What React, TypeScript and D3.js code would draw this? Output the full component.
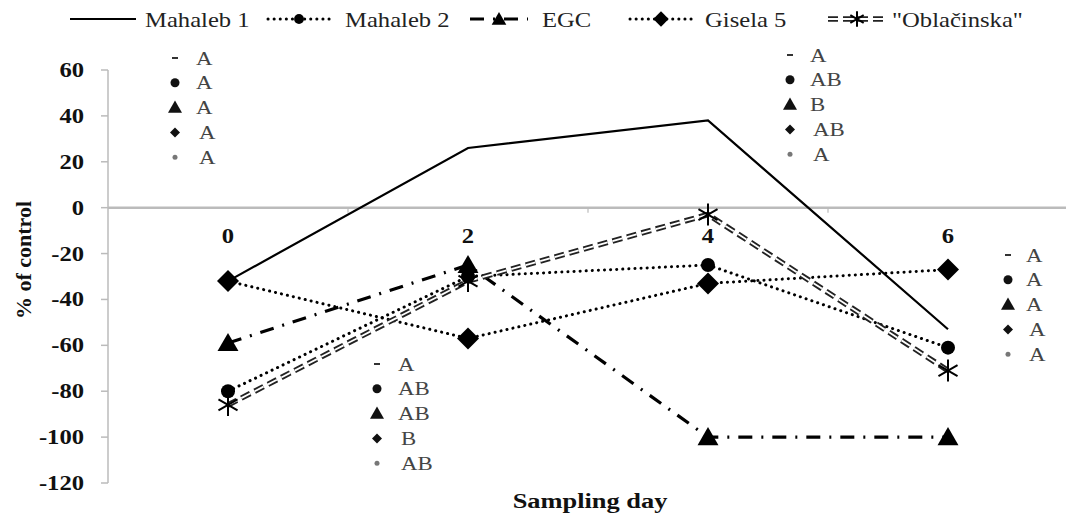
import React from "react";
import * as d3 from "d3";

const days = ["0", "2", "4", "6"];
const yTicks = [60, 40, 20, 0, -20, -40, -60, -80, -100, -120];
const mahaleb1 = [-32, 26, 38, -53];
const mahaleb2 = [-80, -30, -25, -61];
const egc = [-59, -25, -100, -100];
const gisela5 = [-32, -57, -33, -27];
const oblacinska = [-86, -32, -3, -71];
const seriesNames = ["Mahaleb 1", "Mahaleb 2", "EGC", "Gisela 5", "\"Oblačinska\""];
const letters0 = ["A", "A", "A", "A", "A"];
const letters2 = ["A", "AB", "AB", "B", "AB"];
const letters4 = ["A", "AB", "B", "AB", "A"];
const letters6 = ["A", "A", "A", "A", "A"];

const W = 1066, H = 517;
const x = d3.scaleBand<string>().domain(days).range([108, 1068]).padding(0);
const cx = (d: string) => (x(d) as number) + x.bandwidth() / 2;
const y = d3.scaleLinear().domain([-120, 60]).range([483, 70]);

const font = "Liberation Serif, Tinos, DejaVu Serif, serif";
const SX = 1.2;

type Marker = "none" | "circle" | "triangle" | "diamond" | "star";

function MarkerShape({ type, px, py, s = 1 }: { type: Marker; px: number; py: number; s?: number }) {
  if (type === "circle") return <circle cx={px} cy={py} r={7 * s} fill="#000" />;
  if (type === "triangle") {
    const p = d3.symbol(d3.symbolTriangle, 190 * s * s)();
    return <path d={p as string} transform={`translate(${px},${py + 2 * s})`} fill="#000" />;
  }
  if (type === "diamond") {
    const r = 11 * s;
    return <path d={`M${px},${py - r}L${px + r},${py}L${px},${py + r}L${px - r},${py}Z`} fill="#000" />;
  }
  if (type === "star") {
    const r = 11 * s;
    const arms = [90, 30, -30].map((a) => {
      const rad = (a * Math.PI) / 180;
      return `M${px - r * Math.cos(rad)},${py - r * Math.sin(rad)}L${px + r * Math.cos(rad)},${py + r * Math.sin(rad)}`;
    });
    return <path d={arms.join("")} stroke="#000" strokeWidth={2} fill="none" />;
  }
  return null;
}

type Kind = "solid" | "dot" | "dashdot" | "double";

const series: { name: string; values: number[]; marker: Marker; style: Kind }[] = [
  { name: seriesNames[0], values: mahaleb1, marker: "none", style: "solid" },
  { name: seriesNames[1], values: mahaleb2, marker: "circle", style: "dot" },
  { name: seriesNames[2], values: egc, marker: "triangle", style: "dashdot" },
  { name: seriesNames[3], values: gisela5, marker: "diamond", style: "dot" },
  { name: seriesNames[4], values: oblacinska, marker: "star", style: "double" },
];

function StyledPath({ d, style }: { d: string; style: Kind }) {
  if (style === "solid") return <path d={d} fill="none" stroke="#000" strokeWidth={2.2} />;
  if (style === "dot")
    return <path d={d} fill="none" stroke="#000" strokeWidth={3} strokeDasharray="0.1,6" strokeLinecap="round" />;
  if (style === "dashdot")
    return <path d={d} fill="none" stroke="#000" strokeWidth={3.2} strokeDasharray="14,9,2,9" />;
  return (
    <g>
      <path d={d} fill="none" stroke="#222" strokeWidth={5.5} strokeDasharray="10,5" />
      <path d={d} fill="none" stroke="#fff" strokeWidth={1.8} strokeDasharray="10,5" />
    </g>
  );
}

const line = d3
  .line<number>()
  .x((_, i) => cx(days[i]))
  .y((v) => y(v));

const legendItems = [
  { x0: 70, x1: 136, tx: 145 },
  { x0: 268, x1: 330, tx: 345 },
  { x0: 470, x1: 528, tx: 542 },
  { x0: 630, x1: 692, tx: 705 },
  { x0: 828, x1: 886, tx: 892 },
];

const annoGroups = [
  { mx: 175, tx: 196, y0: 58, letters: letters0 },
  { mx: 377, tx: 398, y0: 364, letters: letters2 },
  { mx: 790, tx: 810, y0: 55, letters: letters4 },
  { mx: 1008, tx: 1026, y0: 255, letters: letters6 },
];
const annoMarkers: Marker[] = ["none", "circle", "triangle", "diamond", "star"];

function AnnoMarker({ type, px, py }: { type: Marker; px: number; py: number }) {
  if (type === "none") return <rect x={px - 3} y={py - 1} width={6} height={2} fill="#333" />;
  if (type === "circle") return <circle cx={px} cy={py} r={4.5} fill="#111" />;
  if (type === "triangle") {
    const p = d3.symbol(d3.symbolTriangle, 85)();
    return <path d={p as string} transform={`translate(${px},${py + 1})`} fill="#111" />;
  }
  if (type === "diamond") {
    const r = 5;
    return <path d={`M${px},${py - r}L${px + r},${py}L${px},${py + r}L${px - r},${py}Z`} fill="#111" />;
  }
  return <circle cx={px} cy={py} r={2.5} fill="#777" />;
}

function T({
  px,
  py,
  size,
  bold = false,
  anchor = "start",
  sx = SX,
  fill = "#111",
  children,
}: {
  px: number;
  py: number;
  size: number;
  bold?: boolean;
  anchor?: "start" | "middle" | "end";
  sx?: number;
  fill?: string;
  children: React.ReactNode;
}) {
  return (
    <text
      transform={`translate(${px},${py}) scale(${sx},1)`}
      textAnchor={anchor}
      fill={fill}
      style={{ fontFamily: font, fontSize: size, fontWeight: bold ? 700 : 400 }}
    >
      {children}
    </text>
  );
}

export default function App() {
  return (
    <svg width={W} height={H} style={{ position: "absolute", left: 0, top: 0, background: "#fff" }}>
      {/* y axis */}
      <line x1={108} x2={108} y1={y(60)} y2={y(-120)} stroke="#bbb" strokeWidth={1.5} />
      {yTicks.map((t) => (
        <g key={t}>
          <line x1={101} x2={108} y1={y(t)} y2={y(t)} stroke="#bbb" strokeWidth={1.5} />
          <T px={84} py={y(t) + 7} size={20.5} bold anchor="end">
            {t}
          </T>
        </g>
      ))}
      {/* zero line (category axis) */}
      <line x1={108} x2={1068} y1={y(0)} y2={y(0)} stroke="#bbb" strokeWidth={2.5} />
      {days.slice(1).map((d) => (
        <line key={d} x1={x(d) as number} x2={x(d) as number} y1={y(0)} y2={y(0) + 5} stroke="#bbb" strokeWidth={1.2} />
      ))}
      {days.map((d) => (
        <T key={d} px={cx(d)} py={y(0) + 35} size={20.5} bold anchor="middle">
          {d}
        </T>
      ))}
      {/* axis titles */}
      <text
        transform={`translate(31,260) rotate(-90)`}
        textAnchor="middle"
        fill="#111"
        style={{ fontFamily: font, fontSize: 22, fontWeight: 700 }}
      >
        % of control
      </text>
      <T px={590} py={508} size={22} bold anchor="middle">
        Sampling day
      </T>
      {/* series lines */}
      {series.map((s) => (
        <StyledPath key={s.name} d={line(s.values) as string} style={s.style} />
      ))}
      {/* markers */}
      {series.map((s) =>
        s.values.map((v, i) => <MarkerShape key={s.name + i} type={s.marker} px={cx(days[i])} py={y(v)} />)
      )}
      {/* annotations */}
      {annoGroups.map((g, gi) =>
        g.letters.map((l, i) => {
          const py = g.y0 + i * 24.8;
          return (
            <g key={gi + "-" + i}>
              <AnnoMarker type={annoMarkers[i]} px={g.mx} py={py} />
              <T px={g.tx + (i >= 3 ? 3 : 0)} py={py + 6.5} size={19} fill="#444">
                {l}
              </T>
            </g>
          );
        })
      )}
      {/* legend */}
      {series.map((s, i) => {
        const it = legendItems[i];
        const ly = 19;
        const mid = (it.x0 + it.x1) / 2;
        return (
          <g key={"lg" + i}>
            <StyledPath d={`M${it.x0},${ly}L${it.x1},${ly}`} style={s.style} />
            <MarkerShape type={s.marker} px={mid} py={ly} s={0.7} />
            <T px={it.tx} py={ly + 8} size={22} sx={1.12} fill="#222">
              {s.name}
            </T>
          </g>
        );
      })}
    </svg>
  );
}
